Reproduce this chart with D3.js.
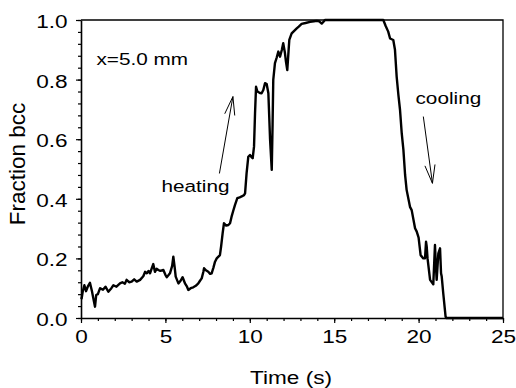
<!DOCTYPE html>
<html>
<head>
<meta charset="utf-8">
<script src="https://cdn.jsdelivr.net/npm/d3@7"></script>
<style>
  html, body { margin: 0; padding: 0; background: #fff; }
  svg { display: block; }
  text { font-family: Arial, "Liberation Sans", sans-serif; fill: #000; }
</style>
</head>
<body>
<svg id="chart" width="516" height="388"></svg>
<script>
// ---- data ----
const time = [0.00,0.04,0.10,0.2,0.3,0.4,0.53,0.65,0.75,0.83,0.9,1.0,1.13,1.3,1.45,1.62,1.8,1.92,2.1,2.31,2.45,2.6,2.7,2.85,3.0,3.15,3.3,3.5,3.69,3.8,3.9,4.0,4.09,4.18,4.28,4.38,4.48,4.58,4.7,4.88,5.0,5.08,5.2,5.27,5.4,5.47,5.55,5.61,5.77,5.9,6.02,6.1,6.16,6.28,6.36,6.5,6.65,6.8,6.95,7.05,7.15,7.25,7.29,7.4,7.54,7.65,7.74,7.85,7.94,8.04,8.23,8.3,8.39,8.47,8.6,8.73,8.83,8.92,9.02,9.12,9.26,9.4,9.52,9.65,9.72,9.81,9.91,10.01,10.1,10.17,10.25,10.31,10.37,10.45,10.6,10.7,10.8,10.9,11.0,11.1,11.2,11.3,11.35,11.39,11.49,11.6,11.69,11.79,11.9,11.98,12.08,12.14,12.22,12.3,12.34,12.48,12.6,12.78,12.9,13.07,13.3,13.57,13.8,13.96,14.1,14.26,14.38,14.45,15,16,17,17.7,17.91,18.05,18.2,18.31,18.5,18.6,18.7,18.8,18.9,19.0,19.1,19.2,19.29,19.49,19.59,19.79,19.89,20.0,20.12,20.28,20.38,20.44,20.48,20.53,20.68,20.87,20.97,21.02,21.07,21.17,21.27,21.33,21.37,21.46,21.6,21.65,25];
const fractionBcc = [0.07,0.066,0.088,0.11,0.09,0.105,0.118,0.09,0.06,0.038,0.077,0.08,0.10,0.095,0.105,0.088,0.10,0.11,0.105,0.116,0.12,0.115,0.128,0.12,0.122,0.13,0.122,0.128,0.14,0.155,0.15,0.158,0.15,0.165,0.181,0.155,0.165,0.161,0.158,0.161,0.145,0.137,0.145,0.15,0.175,0.206,0.17,0.139,0.116,0.125,0.137,0.125,0.116,0.105,0.094,0.1,0.103,0.108,0.116,0.125,0.133,0.155,0.167,0.16,0.155,0.148,0.15,0.17,0.189,0.2,0.211,0.24,0.284,0.318,0.31,0.312,0.318,0.34,0.36,0.379,0.402,0.405,0.408,0.412,0.418,0.486,0.541,0.547,0.54,0.536,0.575,0.687,0.776,0.76,0.755,0.754,0.765,0.788,0.785,0.754,0.6,0.497,0.65,0.799,0.855,0.875,0.894,0.877,0.9,0.922,0.89,0.861,0.832,0.9,0.933,0.955,0.962,0.972,0.978,0.987,0.99,0.994,0.996,0.997,0.996,0.988,0.995,1.0,1.0,1.0,1.0,1.0,1.0,0.98,0.961,0.938,0.933,0.9,0.81,0.75,0.698,0.62,0.564,0.48,0.43,0.373,0.362,0.301,0.29,0.27,0.211,0.2,0.2,0.256,0.24,0.2,0.128,0.113,0.245,0.18,0.128,0.217,0.234,0.15,0.139,0.083,0.004,0,0];

const xTicks = [0, 5, 10, 15, 20, 25];
const xMinorTicks = d3.range(0, 25.001, 1);
const yTicks = [0.0, 0.2, 0.4, 0.6, 0.8, 1.0];
const yMinorTicks = d3.range(0, 1.0001, 0.04);
const annotations = ["x=5.0 mm", "heating", "cooling"];
const xLabel = "Time (s)";
const yLabel = "Fraction bcc";

// ---- layout ----
const svg = d3.select("#chart");
const L = 81, R = 503, T = 20, B = 318;
const SX = 1.22; // horizontal stretch of the horizontal text in the original
const x = d3.scaleLinear().domain([0, 25]).range([L, R]);
const y = d3.scaleLinear().domain([0, 1]).range([B, T]);

// frame (top + right)
svg.append("path")
  .attr("d", `M${L},${T}H${R}V${B}`)
  .attr("fill", "none").attr("stroke", "#000").attr("stroke-width", 1.3);

// minor ticks
const xMinor = d3.axisBottom(x).tickValues(xMinorTicks).tickSize(3).tickFormat("");
const xg0 = svg.append("g").attr("transform", `translate(0,${B})`).call(xMinor);
xg0.select(".domain").remove();
const yMinor = d3.axisLeft(y).tickValues(yMinorTicks).tickSize(3).tickFormat("");
const yg0 = svg.append("g").attr("transform", `translate(${L},0)`).call(yMinor);
yg0.select(".domain").remove();

// major axes
const xAxis = d3.axisBottom(x).tickValues(xTicks).tickSize(5).tickSizeOuter(0).tickPadding(6.5).tickFormat(d3.format("d"));
const xg = svg.append("g").attr("transform", `translate(0,${B})`).call(xAxis);
const yAxis = d3.axisLeft(y).tickValues(yTicks).tickSize(5).tickSizeOuter(0).tickPadding(6).tickFormat(d3.format(".1f"));
const yg = svg.append("g").attr("transform", `translate(${L},0)`).call(yAxis);

[xg, yg, xg0, yg0].forEach(g => {
  g.selectAll("line").attr("stroke", "#000").attr("stroke-width", 1.2);
  g.selectAll(".domain").attr("stroke", "#000").attr("stroke-width", 1.6);
  g.selectAll("text").style("font-size", "18.5px").attr("fill", "#000")
    .style("font-family", "Arial, 'Liberation Sans', sans-serif")
    .attr("transform", `scale(${SX},1)`);
});
xg.selectAll("text").attr("dy", "0.71em");
yg.selectAll("text").attr("dy", "0.4em");

// axis titles
svg.append("text").attr("transform", `translate(${(L + R) / 2 - 1},384) scale(${SX},1)`)
  .attr("text-anchor", "middle").style("font-size", "18.5px").text(xLabel);
svg.append("text").attr("transform", `translate(24.5,164) rotate(-90)`)
  .attr("text-anchor", "middle").style("font-size", "22.5px").text(yLabel);

// data line
const pts = time.map((t, i) => [t, fractionBcc[i]]);
svg.append("path").datum(pts)
  .attr("d", d3.line().x(d => x(d[0])).y(d => y(d[1])))
  .attr("fill", "none").attr("stroke", "#000").attr("stroke-width", 2.4)
  .attr("stroke-linejoin", "round");

// annotations
function note(txt, px, py) {
  svg.append("text").attr("transform", `translate(${px},${py}) scale(${SX},1)`)
    .style("font-size", "17px").text(txt);
}
note(annotations[0], 96.5, 65);
note(annotations[1], 161.5, 192);
note(annotations[2], 415.5, 103.5);

// arrows (positions in data units)
function arrow(t0, v0, t1, v1) {
  const x0 = x(t0), y0 = y(v0), x1 = x(t1), y1 = y(v1);
  const ang = Math.atan2(y1 - y0, x1 - x0);
  const len = 19, spread = 0.27;
  const g = svg.append("g").attr("stroke", "#000").attr("stroke-width", 1).attr("fill", "none");
  g.append("line").attr("x1", x0).attr("y1", y0).attr("x2", x1).attr("y2", y1);
  g.append("polyline").attr("points", [
    [x1 - len * Math.cos(ang - spread), y1 - len * Math.sin(ang - spread)],
    [x1, y1],
    [x1 - len * Math.cos(ang + spread), y1 - len * Math.sin(ang + spread)]
  ].map(p => p.join(",")).join(" "));
}
arrow(8.2, 0.485, 9.0, 0.743);
arrow(20.28, 0.676, 20.82, 0.452);
</script>
</body>
</html>
